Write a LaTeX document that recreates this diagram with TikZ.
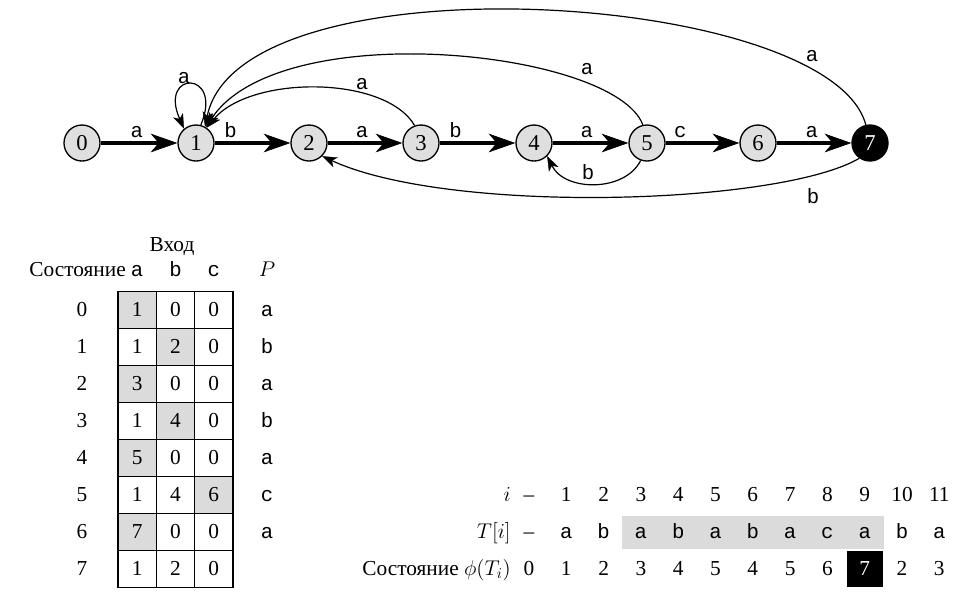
\RequirePackage{fix-cm}
\documentclass[tikz,border=0pt]{standalone}
\usepackage{fontspec}
\setmainfont{Liberation Serif}
\setmonofont{Liberation Mono}
\usetikzlibrary{arrows.meta}
\begin{document}
\begin{tikzpicture}[x=0.75pt,y=-0.75pt,
  txt/.style={font=\fontsize{16}{19}\selectfont, inner sep=0pt, anchor=base},
  sym/.style={font=\fontsize{15.5}{19}\selectfont\ttfamily, inner sep=0pt},
  symb/.style={sym, anchor=base},
  state/.style={circle, draw, line width=1pt, fill=gray!25, minimum size=27pt,
    inner sep=0pt, font=\fontsize{17}{20}\selectfont},
  final/.style={state, fill=black, text=white},
  mainedge/.style={line width=3.2pt,
    -{Stealth[length=20pt,width=14pt,inset=6pt,line width=0.5pt]}},
  elabel/.style={sym, anchor=base, yshift=4pt},
  back/.style={line width=0.9pt,
    -{Stealth[length=11pt,width=8pt,inset=3pt,line width=0.3pt]}},
  cellshade/.style={fill=gray!28},
  gridline/.style={line width=0.8pt}
]
\useasboundingbox (0,0) rectangle (964,601);
\fill[white] (0,0) rectangle (964,601);

% ---------- automaton ----------
\node[state] (n0) at (82,143) {0};
\node[state] (n1) at (196,143) {1};
\node[state] (n2) at (309,143) {2};
\node[state] (n3) at (421,143) {3};
\node[state] (n4) at (534,143) {4};
\node[state] (n5) at (647,143) {5};
\node[state] (n6) at (758,143) {6};
\node[final] (n7) at (870,143) {7};

\draw[mainedge] (n0) -- node[elabel,pos=.47] {a} (n1);
\draw[mainedge] (n1) -- node[elabel,pos=.21] {b} (n2);
\draw[mainedge] (n2) -- node[elabel,pos=.46] {a} (n3);
\draw[mainedge] (n3) -- node[elabel,pos=.21] {b} (n4);
\draw[mainedge] (n4) -- node[elabel,pos=.45] {a} (n5);
\draw[mainedge] (n5) -- node[elabel,pos=.20] {c} (n6);
\draw[mainedge] (n6) -- node[elabel,pos=.47] {a} (n7);

% fall-back transitions
\draw[back] (n1.75) .. controls (224,70) and (158,70) .. (n1.130);
\draw[back] (n3.110) .. controls (385,75) and (250,75) .. (n1.55);
\draw[back] (n5.103) .. controls (615,50) and (280,15) .. (n1.58);
\draw[back] (n7.103) .. controls (830,-10) and (240,-45) .. (n1.61);
\draw[back] (n5.-110) .. controls (625,192) and (565,192) .. (n4.-45);
\draw[back] (n7.-125) .. controls (780,205) and (450,215) .. (n2.-45);

\node[sym] (la1) at (184,78) {a};
\node[sym] (la3) at (362,84) {a};
\node[sym] (la5) at (587,69) {a};
\node[sym] (la7) at (812,56) {a};
\node[sym] (lb54) at (588,172) {b};
\node[sym] (lb72) at (813,196) {b};

% ---------- transition table ----------
\node[txt] (inhead) at (172,251) {Вход};
\node[txt, anchor=base east] (sthead) at (126,276.5) {Состояние};
\node[symb] (ha) at (137.2,276.5) {a};
\node[symb] (hb) at (175.5,276.5) {b};
\node[symb] (hc) at (213.8,276.5) {c};
\node[txt] (hp) at (267,276.5) {$P$};

\foreach \va/\vb/\vc/\p/\s [count=\k from 0] in
  {1/0/0/a/1, 1/2/0/b/2, 3/0/0/a/1, 1/4/0/b/2,
   5/0/0/a/1, 1/4/6/c/3, 7/0/0/a/1, 1/2/0//0}{
  \pgfmathsetmacro\yc{310+37*\k}
  \pgfmathsetmacro\yb{\yc+6.5}
  \ifnum\s>0
    \fill[cellshade] ({118+38.33*(\s-1)},{\yc-18.5}) rectangle ++(38.33,37);
  \fi
  \node[txt] (r\k) at (82,\yb) {\k};
  \node[txt] (ca\k) at (137.2,\yb) {\va};
  \node[txt] (cb\k) at (175.5,\yb) {\vb};
  \node[txt] (cc\k) at (213.8,\yb) {\vc};
  \node[symb] (p\k) at (267,\yb) {\p};
}
\draw[gridline] (118,291.5) rectangle (233,587.5);
\draw[gridline] (156.33,291.5) -- (156.33,587.5);
\draw[gridline] (194.67,291.5) -- (194.67,587.5);
\foreach \k in {1,...,7}{
  \draw[gridline] (118,{291.5+37*\k}) -- (233,{291.5+37*\k});
}

% ---------- run over the text ----------
\fill[cellshade] (622,516) rectangle (884,549);
\fill[black] (847,551) rectangle (883,587);

\node[txt, anchor=base east] (li) at (511,501.5) {$i$};
\node[txt, anchor=base east] (lt) at (511,538.5) {$T[i]$};
\node[txt, anchor=base east] (ls) at (511,575.5) {Состояние $\phi(T_i)$};

\foreach \iv/\tv/\sv [count=\k from 0] in
  {\textendash/\textendash/0, 1/a/1, 2/b/2, 3/a/3, 4/b/4, 5/a/5,
   6/b/4, 7/a/5, 8/c/6, 9/a/7, 10/b/2, 11/a/3}{
  \pgfmathsetmacro\xc{529+37.3*\k}
  \node[txt] (ri\k) at (\xc,501.5) {\iv};
  \ifnum\k=0
    \node[txt] (rt\k) at (\xc,538.5) {\tv};
  \else
    \node[symb] (rt\k) at (\xc,538.5) {\tv};
  \fi
  \ifnum\k=9
    \node[txt, text=white] (rs\k) at (\xc,575.5) {\sv};
  \else
    \node[txt] (rs\k) at (\xc,575.5) {\sv};
  \fi
}
\end{tikzpicture}
\end{document}
